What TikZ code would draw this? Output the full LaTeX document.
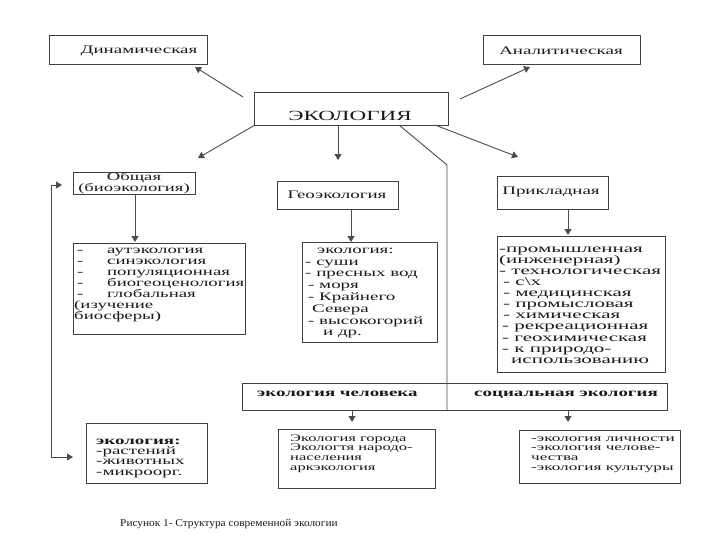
\documentclass[tikz,border=0pt]{standalone}
\usepackage{fontspec}
\setmainfont{Liberation Serif}[FakeStretch=1.65]
\newfontfamily\widefont{Liberation Serif}[FakeStretch=1.78]
\newfontfamily\rtfont{Liberation Serif}[FakeStretch=1.72]
\newfontfamily\capfont{Liberation Serif}[FakeStretch=1.08]
\usetikzlibrary{arrows.meta}
\newcommand\myfs[2]{\fontsize{#1}{#2}\selectfont}
\newcommand\boxat[5]{\node[box, minimum width={#4-#2}, minimum height={#5-#3}] (#1) at ({(#2+#4)/2},{(#3+#5)/2}) {};}
\newcommand\tp[1]{\rule{0pt}{#1pt}}
\begin{document}
\begin{tikzpicture}[x=1pt,y=-1pt,
  box/.style={draw=black!75, line width=0.9pt, inner sep=0pt},
  ln/.style={draw=black!70, line width=0.9pt},
  arr/.style={ln, -{Triangle[width=7pt,length=6pt]}},
  txt/.style={inner sep=0pt, text=black!90, align=left, anchor=north west},
  ctr/.style={inner sep=0pt, text=black!90, align=center},
]
\useasboundingbox[fill=white] (0,0) rectangle (725,559);
% boxes
\boxat{din}{49}{35}{207}{64}
\boxat{anal}{483}{35}{640}{64}
\boxat{eco}{254}{92}{448}{125}
\boxat{obsh}{73}{172}{195}{194}
\boxat{geo}{277}{181}{398}{209}
\boxat{prikl}{497}{176}{608}{209}
\boxat{lone}{73}{243}{245}{334}
\boxat{ltwo}{302}{242}{437}{342}
\boxat{lthree}{497}{236}{665}{372}
\boxat{hum}{242}{383}{667}{410}
\boxat{bl}{86}{423}{207}{483}
\boxat{mid}{278}{429}{435}{488}
\boxat{rt}{519}{430}{680}{483}
% texts
\node[ctr, font=\myfs{11.5}{11}] (tdin) at (139,51) {Динамическая};
\node[ctr, font=\myfs{11.5}{11}] (tanal) at (561,51) {Аналитическая};
\node[ctr, font=\myfs{14}{14}] (teco) at (350,116) {ЭКОЛОГИЯ};
\node[ctr, font=\myfs{11.3}{11}] (tobsh) at (134,183) {Общая\\(биоэкология)};
\node[ctr, font=\myfs{11.5}{11}] (tgeo) at (337,195) {Геоэкология};
\node[ctr, font=\myfs{11.5}{11}] (tprikl) at (551,192) {Прикладная};
\node[txt, font=\myfs{11.4}{11}] (tlone) at (77,245) {%
\tp8\makebox[30pt][l]{-}аутэкология\\
\makebox[30pt][l]{-}синэкология\\
\makebox[30pt][l]{-}популяционная\\
\makebox[30pt][l]{-}биогеоценология\\
\makebox[30pt][l]{-}глобальная\\
\hspace*{-3pt}(изучение\\
\hspace*{-3pt}биосферы)};
\node[txt, font=\myfs{11.5}{11.8}] (tltwo) at (305,245) {%
\tp8\hspace*{12pt}экология:\\
- суши\\
- пресных вод\\
\hspace*{3pt}- моря\\
\hspace*{3pt}- Крайнего\\
\hspace*{7pt}Севера\\
\hspace*{3pt}- высокогорий\\
\hspace*{18pt}и др.};
\node[txt, font=\widefont\myfs{11.8}{11.1}] (tlthree) at (499,244) {%
\tp8-промышленная\\
(инженерная)\\
- технологическая\\
\hspace*{4pt}- с\textbackslash х\\
\hspace*{4pt}- медицинская\\
\hspace*{4pt}- промысловая\\
\hspace*{4pt}- химическая\\
\hspace*{3pt}- рекреационная\\
\hspace*{3pt}- геохимическая\\
\hspace*{3pt}- к природо-\\
\hspace*{12pt}использованию};
\node[txt, font=\myfs{11.5}{10.3}] (tbl) at (96,436) {%
\tp8\textbf{экология:}\\-растений\\-животных\\-микроорг.};
\node[inner sep=0pt, text=black!90, anchor=base west, font=\bfseries\myfs{11.5}{11}] (thum) at (257,396) {экология человека};
\node[ctr, anchor=base, font=\bfseries\myfs{11.5}{11}] (tsoc) at (566,396) {социальная экология};
\node[txt, font=\myfs{10}{9.7}] (tmid) at (290,434) {%
\tp7Экология города\\Экологтя народо-\\населения\\аркэкология};
\node[txt, font=\rtfont\myfs{10}{9.7}] (trt) at (531,434) {%
\tp7-экология личности\\-экология челове-\\чества\\-экология культуры};
\node[inner sep=0pt, text=black!90, anchor=base west, font=\capfont\myfs{10.5}{10}] (cap) at (120,526) {Рисунок 1- Структура современной экологии};
% connector coordinates
\coordinate (a1s) at (243,97);  \coordinate (a1e) at (195,67);
\coordinate (a2s) at (460,99);  \coordinate (a2e) at (530,67);
\coordinate (a3s) at (255,125); \coordinate (a3e) at (198,158);
\coordinate (a4s) at (338,125); \coordinate (a4e) at (338,160);
\coordinate (a5s) at (435,125); \coordinate (a5e) at (518,157);
\coordinate (a6s) at (399,125); \coordinate (a6m) at (447,165);
\coordinate (a6e) at (447,410);
\coordinate (a7e) at (135,242);
\coordinate (a8e) at (351,242);
\coordinate (a9e) at (568,235);
\coordinate (btop) at (62,185); \coordinate (bvt) at (51,185);
\coordinate (bvb) at (51,457);  \coordinate (bbot) at (73,457);
\coordinate (a11s) at (352,410); \coordinate (a11e) at (352,422);
\coordinate (a12s) at (568,410); \coordinate (a12e) at (568,422);
% connectors
\draw[arr] (a1s) -- (a1e);
\draw[arr] (a2s) -- (a2e);
\draw[arr] (a3s) -- (a3e);
\draw[arr] (a4s) -- (a4e);
\draw[arr] (a5s) -- (a5e);
\draw[ln] (a6s) -- (a6m) -- (a6e);
\draw[arr] (obsh.south -| a7e) -- (a7e);
\draw[arr] (geo.south -| a8e) -- (a8e);
\draw[arr] (prikl.south -| a9e) -- (a9e);
\draw[arr] (bvt) -- (btop);
\draw[arr] (bvt) -- (bvb) -- (bbot);
\draw[arr] (a11s) -- (a11e);
\draw[arr] (a12s) -- (a12e);
\end{tikzpicture}
\end{document}
